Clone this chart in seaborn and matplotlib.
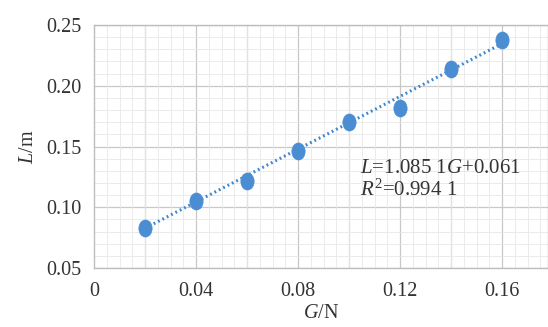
import matplotlib
matplotlib.use("Agg")
import matplotlib.pyplot as plt
import matplotlib.ticker as mt
from matplotlib.path import Path
from matplotlib.transforms import Affine2D
import seaborn as sns
import pandas as pd
import numpy as np

G = [0.02, 0.04, 0.06, 0.08, 0.10, 0.12, 0.14, 0.16]
L = [0.083, 0.105, 0.122, 0.146, 0.170, 0.182, 0.214, 0.238]
slope = 1.0851
intercept = 0.061
xticks = [0, 0.04, 0.08, 0.12, 0.16]
xticklabels = ["0", "0.04", "0.08", "0.12", "0.16"]
yticks = [0.05, 0.10, 0.15, 0.20, 0.25]

sns.set_theme(style="white")
plt.rcParams['font.family'] = ['Liberation Serif', 'DejaVu Serif']
plt.rcParams['mathtext.fontset'] = 'custom'
plt.rcParams['mathtext.rm'] = 'Liberation Serif'
plt.rcParams['mathtext.it'] = 'Liberation Serif:italic'

df = pd.DataFrame({"G": G, "L": L})
fit = pd.DataFrame({"G": [G[0], G[-1]]})
fit["L"] = slope * fit["G"] + intercept

fig = plt.figure(figsize=(5.48, 3.27), dpi=100)
ax = fig.add_axes([94/548, 1-268/327, 1-94/548, (268-25)/327])

blue = "#4a8dd2"
sns.lineplot(data=fit, x="G", y="L", ax=ax, color="#3d86d0", lw=2.2,
             linestyle=(0, (0.6, 1.0)), zorder=2)
ell = Path.unit_circle().transformed(Affine2D().scale(0.78, 1.0))
sns.scatterplot(data=df, x="G", y="L", ax=ax, color=blue, marker=ell,
                s=150, edgecolor=blue, linewidth=0.5, zorder=3)

ax.set_xlim(0, (548-94)/2550)
ax.set_ylim(0.05, 0.25)
ax.set_xticks(xticks)
ax.set_xticklabels(xticklabels)
ax.set_yticks(yticks)
ax.set_yticklabels([f"{v:.2f}" for v in yticks])
ax.xaxis.set_minor_locator(mt.MultipleLocator(0.005))
ax.yaxis.set_minor_locator(mt.MultipleLocator(0.01))
ax.grid(False)
for v in np.arange(0.02, 0.18, 0.02):
    ax.axvline(v, color="#c8c8c8", lw=0.9, zorder=0)
for v in yticks:
    ax.axhline(v, color="#c8c8c8", lw=0.9, zorder=0)
ax.grid(which="minor", color="#e8e8e8", lw=0.6, zorder=0)
ax.set_axisbelow(True)
for s in ax.spines.values():
    s.set_color("#bdbdbd")
    s.set_linewidth(1.0)
ax.tick_params(axis="y", which="both", length=0, labelsize=14.5, colors="#333333", pad=9)
ax.tick_params(axis="x", which="both", length=0, labelsize=14.5, colors="#333333", pad=10)

ax.set_xlabel("$\\mathit{G}$/N", fontsize=14.5, color="#333333", labelpad=2)
ax.set_ylabel("$\\mathit{L}$/m", fontsize=14.5, color="#333333", labelpad=6)

ax.text(0.1043, 0.1323, "$\\mathit{L}$=1.085 1$\\mathit{G}$+0.061", fontsize=15, color="#333333",
        va="center", ha="left")
ax.text(0.1043, 0.1142, "$\\mathit{R}^2$=0.994 1", fontsize=15, color="#333333",
        va="center", ha="left")

fig.savefig("out.png", dpi=100)
